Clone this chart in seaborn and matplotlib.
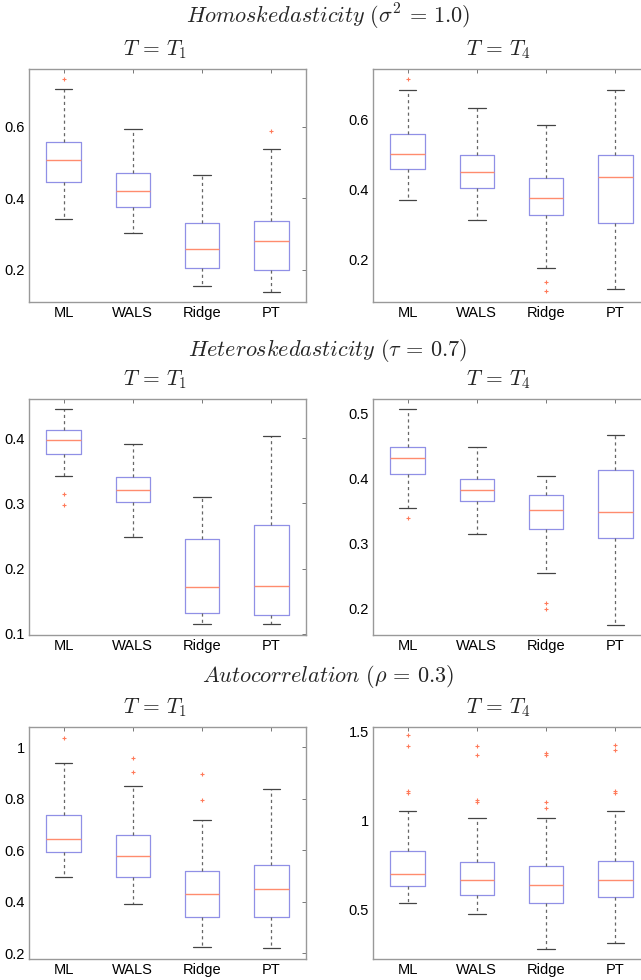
import matplotlib
matplotlib.use('Agg')
import matplotlib.pyplot as plt
import seaborn as sns
import pandas as pd

methods = ['ML', 'WALS', 'Ridge', 'PT']

# box stats per method: lower whisker, q1, median, q3, upper whisker
homo_t1_stats = [[0.342, 0.445, 0.506, 0.558, 0.706],
                 [0.304, 0.377, 0.420, 0.470, 0.593],
                 [0.154, 0.206, 0.258, 0.332, 0.465],
                 [0.139, 0.199, 0.280, 0.337, 0.538]]
homo_t1_out = [[0.735], [], [], [0.588]]

homo_t4_stats = [[0.369, 0.457, 0.500, 0.558, 0.683],
                 [0.312, 0.403, 0.449, 0.497, 0.631],
                 [0.175, 0.326, 0.376, 0.433, 0.583],
                 [0.115, 0.302, 0.434, 0.498, 0.683]]
homo_t4_out = [[0.716], [], [0.135, 0.108], []]

hetero_t1_stats = [[0.342, 0.375, 0.397, 0.413, 0.444],
                   [0.248, 0.302, 0.320, 0.340, 0.391],
                   [0.115, 0.132, 0.171, 0.246, 0.309],
                   [0.115, 0.129, 0.173, 0.267, 0.403]]
hetero_t1_out = [[0.315, 0.298], [], [], []]

hetero_t4_stats = [[0.355, 0.408, 0.432, 0.449, 0.507],
                   [0.315, 0.365, 0.382, 0.400, 0.449],
                   [0.255, 0.322, 0.352, 0.375, 0.404],
                   [0.175, 0.309, 0.349, 0.414, 0.467]]
hetero_t4_out = [[0.340], [], [0.208, 0.199], []]

auto_t1_stats = [[0.495, 0.594, 0.645, 0.737, 0.939],
                 [0.391, 0.496, 0.576, 0.658, 0.848],
                 [0.222, 0.339, 0.429, 0.520, 0.716],
                 [0.218, 0.339, 0.449, 0.541, 0.837]]
auto_t1_out = [[1.036], [0.960, 0.905], [0.896, 0.796], []]

auto_t4_stats = [[0.538, 0.633, 0.702, 0.827, 1.053],
                 [0.476, 0.583, 0.669, 0.768, 1.013],
                 [0.282, 0.540, 0.640, 0.746, 1.013],
                 [0.312, 0.573, 0.669, 0.772, 1.053]]
auto_t4_out = [[1.477, 1.418, 1.164, 1.155], [1.418, 1.367, 1.115, 1.105],
               [1.380, 1.367, 1.105, 1.068], [1.421, 1.398, 1.164, 1.156]]

panel_stats = [homo_t1_stats, homo_t4_stats, hetero_t1_stats,
               hetero_t4_stats, auto_t1_stats, auto_t4_stats]
panel_out = [homo_t1_out, homo_t4_out, hetero_t1_out,
             hetero_t4_out, auto_t1_out, auto_t4_out]
panel_ylim = [(0.110, 0.762), (0.077, 0.744), (0.098, 0.460),
              (0.159, 0.523), (0.177, 1.079), (0.225, 1.524)]
panel_yticks = [[0.2, 0.4, 0.6], [0.2, 0.4, 0.6], [0.1, 0.2, 0.3, 0.4],
                [0.2, 0.3, 0.4, 0.5], [0.2, 0.4, 0.6, 0.8, 1.0], [0.5, 1.0, 1.5]]
panel_yticklabels = [['0.2', '0.4', '0.6'], ['0.2', '0.4', '0.6'],
                     ['0.1', '0.2', '0.3', '0.4'], ['0.2', '0.3', '0.4', '0.5'],
                     ['0.2', '0.4', '0.6', '0.8', '1'], ['0.5', '1', '1.5']]

section_titles = [r'$\mathit{Homoskedasticity}\ (\sigma^2\,=\,1.0)$',
                  r'$\mathit{Heteroskedasticity}\ (\tau\,=\,0.7)$',
                  r'$\mathit{Autocorrelation}\ (\rho\,=\,0.3)$']
panel_titles = [r'$T\,=\,T_1$', r'$T\,=\,T_4$']


def expand(stats, outliers):
    # build a sample whose quartiles / whiskers reproduce the box stats
    lo, q1, med, q3, hi = stats
    low_out = [v for v in outliers if v < q1]
    high_out = [v for v in outliers if v > q3]
    vals = low_out + [lo] + [q1] * (5 - len(low_out))
    vals += [q1] * 6 + [med] + [q3] * 6
    vals += [hi] + high_out + [q3] * (5 - len(high_out))
    return vals


sns.set_style('white')
plt.rcParams['font.family'] = ['Liberation Sans', 'DejaVu Sans']
plt.rcParams['mathtext.fontset'] = 'cm'

W, H = 641, 980
fig = plt.figure(figsize=(W / 100, H / 100), dpi=100)

col_left = [29, 373]
ax_w = 277
row_top = [69, 399, 727]
row_h = [233, 236, 232]
sec_y = [17, 350, 677]
sub_y = [50, 380, 708]
sub_x = [155, 498]

box_col = '#9090e6'
med_col = '#ff8c6e'
out_col = '#ff7a5a'

for i in range(6):
    r, c = i // 2, i % 2
    ax = fig.add_axes([col_left[c] / W, 1 - (row_top[r] + row_h[r]) / H,
                       ax_w / W, row_h[r] / H])
    rows = []
    for m, st, out in zip(methods, panel_stats[i], panel_out[i]):
        for v in expand(st, out):
            rows.append({'method': m, 'value': v})
    df = pd.DataFrame(rows)
    sns.boxplot(data=df, x='method', y='value', order=methods, ax=ax,
                width=0.5, fill=False, whis=1.5, linecolor=box_col, linewidth=0.9,
                boxprops=dict(color=box_col),
                medianprops=dict(color=med_col, linewidth=1.0),
                whiskerprops=dict(color='#666666', linestyle=(0, (2.5, 2.5)), linewidth=0.9),
                capprops=dict(color='#444444', linewidth=0.9),
                flierprops=dict(marker='+', markersize=3, markeredgecolor=out_col,
                                markeredgewidth=0.8, linestyle='none'))
    ax.set_xlim(-0.5, 3.5)
    ax.set_ylim(*panel_ylim[i])
    ax.set_yticks(panel_yticks[i])
    ax.set_yticklabels(panel_yticklabels[i])
    ax.set_xlabel('')
    ax.set_ylabel('')
    ax.tick_params(direction='in', top=True, right=True, length=3, width=0.7,
                   color='#777777', labelsize=10.5, labelcolor='#000000', pad=3)
    for sp in ax.spines.values():
        sp.set_color('#999999')
        sp.set_linewidth(1.0)

for r in range(3):
    fig.text(328 / W, 1 - sec_y[r] / H, section_titles[r], ha='center', va='center',
             fontsize=16)
    for c in range(2):
        fig.text(sub_x[c] / W, 1 - sub_y[r] / H, panel_titles[c], ha='center',
                 va='center', fontsize=15.5)

fig.savefig('out.png', dpi=100)
